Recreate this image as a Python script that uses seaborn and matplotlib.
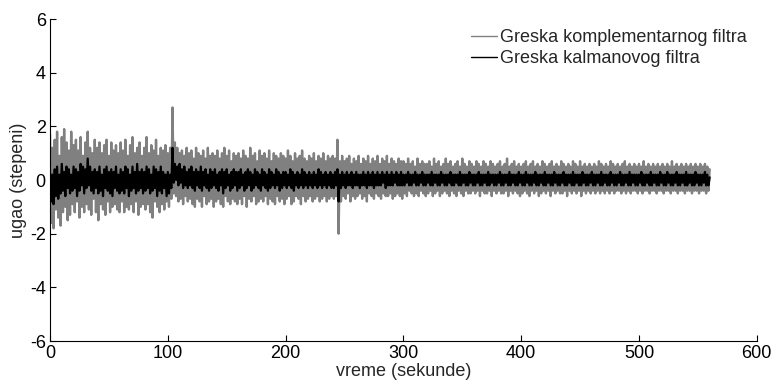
import matplotlib
matplotlib.use("Agg")
import matplotlib.pyplot as plt
import seaborn as sns
import pandas as pd

# time samples (s)
time = list(range(0, 561))

# complementary filter error (deg), one value per second
greska_komplementarni = [
    1.7,-1.6,1.2,-1.8,1.5,-1.1,1.8,-1.4,0.9,-1.7,1.6,-1.2,1.9,-1.0,1.4,-1.5,1.1,-1.3,1.8,-0.9,
    1.3,-1.2,1.5,-0.8,1.1,-1.4,1.6,-1.0,0.9,-1.2,1.4,-0.9,1.8,-1.1,1.2,-1.3,1.0,-0.7,1.5,-1.2,
    1.2,-1.5,1.4,-0.9,1.0,-1.1,1.3,-1.3,1.5,-0.8,0.9,-1.2,1.4,-1.0,1.1,-0.9,1.3,-1.1,1.0,-1.2,
    1.4,-0.8,1.1,-1.2,1.5,-1.0,0.9,-1.1,1.3,-0.9,1.6,-1.2,1.0,-0.8,1.2,-1.3,1.4,-1.0,0.9,-0.9,
    1.2,-1.1,1.6,-0.9,1.0,-1.2,1.3,-1.4,1.1,-0.8,1.5,-1.0,0.9,-1.2,1.2,-0.9,1.1,-1.1,1.3,-0.8,
    1.0,-1.0,1.2,-0.7,2.7,-0.5,1.4,-0.6,1.2,-0.8,1.0,-0.7,1.1,-0.9,0.9,-0.6,1.2,-0.8,1.0,-0.7,
    1.1,-0.9,0.8,-1.0,1.2,-0.7,1.0,-0.8,0.9,-1.0,1.1,-0.6,0.8,-0.9,1.2,-0.8,0.9,-0.7,1.0,-1.0,
    0.9,-0.8,1.1,-0.7,0.8,-0.9,1.0,-1.0,1.2,-0.6,0.9,-0.8,1.1,-0.9,0.7,-0.7,1.0,-0.8,0.9,-0.9,
    1.0,-0.7,0.8,-0.9,1.1,-0.6,0.9,-1.0,0.8,-0.7,1.2,-0.8,0.9,-0.6,1.0,-0.9,0.7,-0.8,1.1,-0.7,
    0.9,-0.8,1.0,-0.6,0.8,-0.9,1.1,-0.7,0.7,-0.8,1.0,-0.9,0.9,-0.6,0.8,-0.8,1.0,-0.7,0.9,-0.9,
    0.8,-0.7,1.1,-0.6,0.9,-0.9,0.7,-0.8,1.0,-0.6,0.8,-0.7,0.9,-0.9,1.1,-0.6,0.8,-0.8,0.7,-0.7,
    0.9,-0.6,0.8,-0.8,1.0,-0.7,0.7,-0.6,0.9,-0.8,0.8,-0.7,1.0,-0.6,0.7,-0.8,0.9,-0.7,0.8,-0.6,
    0.9,-0.7,0.8,-0.6,1.5,-2.0,0.7,-0.8,0.9,-0.6,0.7,-0.7,0.8,-0.5,0.9,-0.8,0.6,-0.6,0.8,-0.7,
    0.7,-0.6,0.9,-0.5,0.6,-0.7,0.8,-0.6,0.7,-0.8,0.9,-0.5,0.6,-0.6,0.8,-0.7,0.7,-0.5,0.9,-0.6,
    0.6,-0.7,0.8,-0.5,0.7,-0.6,0.9,-0.6,0.6,-0.5,0.8,-0.7,0.7,-0.6,0.6,-0.5,0.8,-0.6,0.7,-0.7,
    0.7,-0.5,0.6,-0.6,0.8,-0.4,0.6,-0.5,0.7,-0.6,0.5,-0.5,0.8,-0.6,0.6,-0.4,0.7,-0.5,0.6,-0.6,
    0.6,-0.5,0.7,-0.4,0.5,-0.6,0.8,-0.5,0.6,-0.4,0.7,-0.6,0.5,-0.5,0.6,-0.4,0.8,-0.5,0.6,-0.6,
    0.7,-0.4,0.5,-0.5,0.6,-0.6,0.7,-0.4,0.5,-0.5,0.8,-0.6,0.6,-0.4,0.5,-0.5,0.7,-0.5,0.6,-0.4,
    0.5,-0.5,0.7,-0.4,0.6,-0.6,0.5,-0.4,0.7,-0.5,0.6,-0.5,0.5,-0.4,0.7,-0.6,0.6,-0.4,0.5,-0.5,
    0.6,-0.4,0.7,-0.5,0.5,-0.5,0.6,-0.4,0.8,-0.6,0.5,-0.4,0.6,-0.5,0.7,-0.4,0.5,-0.5,0.6,-0.6,
    0.5,-0.5,0.6,-0.4,0.7,-0.5,0.5,-0.6,0.6,-0.4,0.7,-0.5,0.5,-0.4,0.6,-0.6,0.5,-0.5,0.7,-0.4,
    0.6,-0.5,0.5,-0.4,0.6,-0.6,0.7,-0.4,0.5,-0.5,0.6,-0.4,0.5,-0.5,0.7,-0.5,0.6,-0.4,0.5,-0.6,
    0.6,-0.4,0.5,-0.5,0.7,-0.4,0.6,-0.5,0.5,-0.4,0.7,-0.6,0.5,-0.4,0.6,-0.5,0.5,-0.4,0.6,-0.5,
    0.5,-0.4,0.6,-0.5,0.5,-0.4,0.7,-0.5,0.6,-0.4,0.5,-0.5,0.6,-0.4,0.5,-0.5,0.7,-0.4,0.6,-0.5,
    0.5,-0.4,0.6,-0.4,0.5,-0.5,0.6,-0.4,0.7,-0.5,0.5,-0.4,0.6,-0.5,0.5,-0.4,0.6,-0.4,0.5,-0.5,
    0.6,-0.4,0.5,-0.5,0.7,-0.4,0.5,-0.4,0.6,-0.5,0.5,-0.4,0.6,-0.4,0.5,-0.5,0.6,-0.4,0.5,-0.4,
    0.6,-0.5,0.5,-0.4,0.6,-0.4,0.5,-0.5,0.7,-0.4,0.5,-0.4,0.6,-0.5,0.5,-0.4,0.6,-0.4,0.5,-0.5,
    0.6,-0.4,0.5,-0.4,0.6,-0.5,0.5,-0.4,0.6,-0.4,0.5,-0.5,0.6,-0.4,0.5,-0.4,0.6,-0.5,0.5,-0.4,
    0.4,
]

# Kalman filter error (deg), one value per second
greska_kalman = [
    0.3,-0.8,0.2,-0.9,0.4,-0.6,0.5,-0.7,0.2,-0.5,0.6,-0.4,0.3,-0.6,0.5,-0.3,0.4,-0.5,0.2,-0.4,
    0.5,-0.3,0.4,-0.6,0.3,-0.4,0.6,-0.2,0.5,-0.5,0.4,-0.3,0.8,-0.2,0.5,-0.4,0.3,-0.5,0.4,-0.3,
    0.3,-0.5,0.5,-0.4,0.2,-0.6,0.4,-0.3,0.5,-0.4,0.3,-0.5,0.4,-0.6,0.3,-0.3,0.5,-0.4,0.2,-0.5,
    0.4,-0.4,0.3,-0.5,0.5,-0.3,0.4,-0.6,0.2,-0.4,0.5,-0.3,0.3,-0.5,0.6,-0.4,0.3,-0.3,0.4,-0.5,
    0.3,-0.4,0.5,-0.3,0.4,-0.5,0.2,-0.4,0.5,-0.3,0.4,-0.6,0.3,-0.4,0.5,-0.5,0.3,-0.3,0.2,-0.6,
    0.3,-0.5,0.2,-0.3,1.2,-0.1,0.6,0.0,0.5,-0.2,0.6,-0.1,0.4,-0.3,0.5,-0.2,0.3,-0.3,0.4,-0.2,
    0.5,-0.3,0.3,-0.4,0.4,-0.2,0.3,-0.3,0.5,-0.4,0.3,-0.2,0.4,-0.3,0.2,-0.4,0.4,-0.3,0.3,-0.2,
    0.4,-0.3,0.2,-0.4,0.3,-0.2,0.4,-0.5,0.3,-0.3,0.4,-0.2,0.2,-0.4,0.3,-0.3,0.4,-0.2,0.3,-0.4,
    0.3,-0.3,0.4,-0.2,0.2,-0.4,0.3,-0.3,0.4,-0.2,0.3,-0.4,0.2,-0.3,0.4,-0.2,0.3,-0.3,0.2,-0.4,
    0.4,-0.2,0.3,-0.3,0.2,-0.4,0.4,-0.3,0.3,-0.2,0.2,-0.3,0.4,-0.2,0.3,-0.4,0.2,-0.3,0.3,-0.2,
    0.3,-0.3,0.2,-0.2,0.4,-0.3,0.3,-0.4,0.2,-0.2,0.3,-0.3,0.2,-0.2,0.4,-0.3,0.3,-0.2,0.2,-0.3,
    0.3,-0.2,0.2,-0.3,0.3,-0.2,0.2,-0.3,0.4,-0.2,0.3,-0.3,0.2,-0.2,0.3,-0.3,0.2,-0.2,0.3,-0.3,
    0.2,-0.3,0.3,-0.2,0.4,-0.8,0.2,-0.3,0.3,-0.2,0.2,-0.3,0.3,-0.2,0.2,-0.2,0.3,-0.3,0.2,-0.2,
    0.3,-0.2,0.2,-0.3,0.2,-0.2,0.3,-0.2,0.2,-0.3,0.3,-0.2,0.2,-0.2,0.3,-0.3,0.2,-0.2,0.3,-0.2,
    0.2,-0.2,0.3,-0.1,0.2,-0.3,0.3,-0.2,0.2,-0.2,0.3,-0.2,0.2,-0.1,0.3,-0.2,0.2,-0.2,0.3,-0.2,
    0.2,-0.2,0.2,-0.1,0.3,-0.2,0.2,-0.2,0.2,-0.1,0.3,-0.2,0.2,-0.2,0.2,-0.1,0.3,-0.2,0.2,-0.2,
    0.2,-0.1,0.2,-0.2,0.3,-0.2,0.2,-0.1,0.2,-0.2,0.2,-0.2,0.3,-0.1,0.2,-0.2,0.2,-0.2,0.2,-0.1,
    0.3,-0.2,0.2,-0.2,0.2,-0.1,0.2,-0.2,0.3,-0.2,0.2,-0.1,0.2,-0.2,0.2,-0.2,0.3,-0.1,0.2,-0.2,
    0.2,-0.2,0.2,-0.1,0.3,-0.2,0.2,-0.2,0.2,-0.1,0.2,-0.2,0.3,-0.2,0.2,-0.1,0.2,-0.2,0.2,-0.2,
    0.2,-0.1,0.3,-0.2,0.2,-0.2,0.2,-0.1,0.2,-0.2,0.3,-0.2,0.2,-0.1,0.2,-0.2,0.2,-0.2,0.3,-0.1,
    0.2,-0.2,0.2,-0.2,0.3,-0.1,0.2,-0.2,0.2,-0.2,0.2,-0.1,0.3,-0.2,0.2,-0.2,0.2,-0.1,0.2,-0.2,
    0.3,-0.2,0.2,-0.1,0.2,-0.2,0.2,-0.2,0.3,-0.1,0.2,-0.2,0.2,-0.2,0.2,-0.1,0.3,-0.2,0.2,-0.2,
    0.2,-0.1,0.2,-0.2,0.3,-0.2,0.2,-0.1,0.2,-0.2,0.2,-0.2,0.3,-0.1,0.2,-0.2,0.2,-0.2,0.2,-0.1,
    0.3,-0.2,0.2,-0.2,0.2,-0.1,0.2,-0.2,0.3,-0.2,0.2,-0.1,0.2,-0.2,0.2,-0.2,0.3,-0.1,0.2,-0.2,
    0.2,-0.2,0.2,-0.1,0.3,-0.2,0.2,-0.2,0.2,-0.1,0.2,-0.2,0.3,-0.2,0.2,-0.1,0.2,-0.2,0.2,-0.2,
    0.2,-0.1,0.3,-0.2,0.2,-0.2,0.2,-0.1,0.2,-0.2,0.3,-0.2,0.2,-0.1,0.2,-0.2,0.2,-0.2,0.3,-0.1,
    0.2,-0.2,0.2,-0.2,0.3,-0.1,0.2,-0.2,0.2,-0.2,0.2,-0.1,0.3,-0.2,0.2,-0.2,0.2,-0.1,0.2,-0.2,
    0.3,-0.2,0.2,-0.1,0.2,-0.2,0.2,-0.2,0.3,-0.1,0.2,-0.2,0.2,-0.2,0.2,-0.1,0.3,-0.2,0.2,-0.2,
    0.1,
]

serija_labels = ["Greska komplementarnog filtra", "Greska kalmanovog filtra"]
x_ticks = [0, 100, 200, 300, 400, 500, 600]
y_ticks = [-6, -4, -2, 0, 2, 4, 6]

assert len(time) == len(greska_komplementarni) == len(greska_kalman)

df = pd.DataFrame({"t": time, "komp": greska_komplementarni, "kal": greska_kalman})

sns.set_style("ticks")
plt.rcParams["font.family"] = ["Liberation Sans", "DejaVu Sans"]
plt.rcParams["axes.unicode_minus"] = False

fig = plt.figure(figsize=(7.73, 3.80), dpi=100)
ax = fig.add_axes([0.0647, 0.1026, 0.9143, 0.8474])

sns.lineplot(data=df, x="t", y="komp", color="#808080", linewidth=1.7,
             estimator=None, ax=ax, label=serija_labels[0])
sns.lineplot(data=df, x="t", y="kal", color="black", linewidth=1.6,
             estimator=None, ax=ax, label=serija_labels[1])

ax.set_xlim(0, 600)
ax.set_ylim(-6, 6)
ax.set_xticks(x_ticks)
ax.set_yticks(y_ticks)
ax.tick_params(direction="in", length=4, width=0.8, labelsize=13, pad=3, colors="black")
for s in ["top", "right"]:
    ax.spines[s].set_visible(False)
for s in ["left", "bottom"]:
    ax.spines[s].set_color("black")
    ax.spines[s].set_linewidth(0.8)

ax.set_xlabel("vreme (sekunde)", fontsize=13, labelpad=0.5)
ax.set_ylabel("ugao (stepeni)", fontsize=13, labelpad=2)

leg = ax.legend(loc="upper right", bbox_to_anchor=(1.0, 1.0), frameon=False,
                fontsize=13, handlelength=1.45, handletextpad=0.15,
                labelspacing=0.25, borderaxespad=0.15)
for line in leg.get_lines():
    line.set_linewidth(1.0)

fig.savefig("out.png", dpi=100)
